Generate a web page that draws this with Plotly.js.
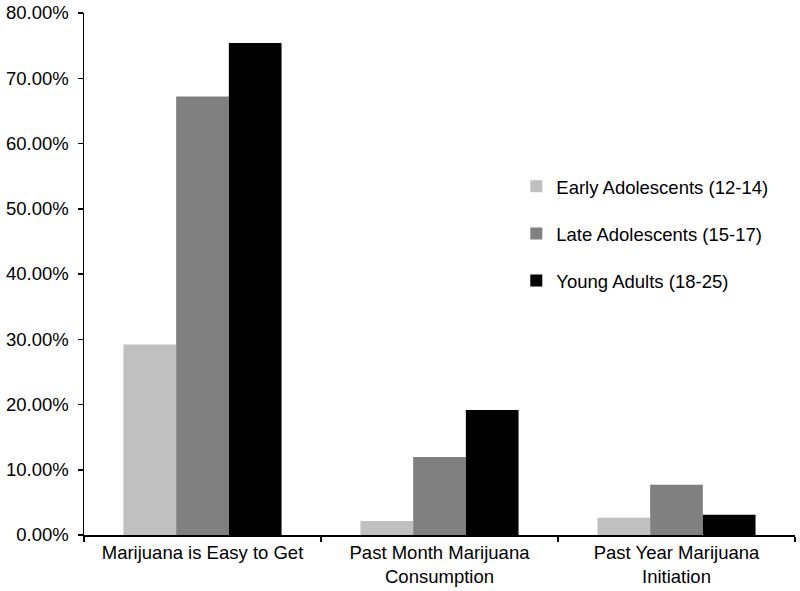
<!DOCTYPE html>
<html>
<head>
<meta charset="utf-8">
<script src="https://cdn.plot.ly/plotly-3.0.1.min.js"></script>
<style>html,body{margin:0;padding:0;background:#fff;}#chart{width:800px;height:591px;}</style>
</head>
<body>
<div id="chart"></div>
<script>
const categories = ["Marijuana is Easy to Get", "Past Month Marijuana<br>Consumption", "Past Year Marijuana<br>Initiation"];
const seriesNames = ["Early Adolescents (12-14)", "Late Adolescents (15-17)", "Young Adults (18-25)"];
const earlyAdolescents = [0.292, 0.0215, 0.0265];
const lateAdolescents = [0.672, 0.1195, 0.077];
const youngAdults = [0.754, 0.1915, 0.031];
const seriesValues = [earlyAdolescents, lateAdolescents, youngAdults];
const seriesColors = ["#c0c0c0", "#808080", "#000000"];
const yTickVals = [0, 0.1, 0.2, 0.3, 0.4, 0.5, 0.6, 0.7, 0.8];

const traces = seriesValues.map((vals, i) => ({
  type: "bar",
  name: seriesNames[i],
  x: categories,
  y: vals,
  marker: {color: seriesColors[i], line: {width: 0}},
  legendgroup: "g" + i,
  hoverinfo: "skip"
}));

const layout = {
  width: 800, height: 591,
  margin: {l: 84, r: 5, t: 13, b: 56},
  paper_bgcolor: "#fff", plot_bgcolor: "#fff",
  font: {family: "Liberation Sans, Arial, sans-serif", size: 18.5, color: "#000"},
  barmode: "group",
  bargap: 0.333,
  bargroupgap: 0,
  showlegend: true,
  legend: {x: 0.608, y: 0.577, xanchor: "left", yanchor: "middle", traceorder: "grouped",
           tracegroupgap: 20, font: {size: 18.5}, bgcolor: "rgba(0,0,0,0)"},
  xaxis: {
    showline: true, linecolor: "#000", linewidth: 1.5,
    ticks: "outside", tickson: "boundaries", ticklen: 5, tickcolor: "#000", tickwidth: 1.5,
    showgrid: false, zeroline: false, tickfont: {size: 18.5}, fixedrange: true
  },
  yaxis: {
    range: [0, 0.8], tickvals: yTickVals, tickformat: ".2%",
    showline: true, linecolor: "#000", linewidth: 1.5,
    ticks: "outside", ticklen: 5, tickcolor: "#000", tickwidth: 1.5, ticklabelstandoff: 5,
    showgrid: false, zeroline: false, tickfont: {size: 18.5}, fixedrange: true
  }
};

Plotly.newPlot("chart", traces, layout, {displayModeBar: false, staticPlot: true});
</script>
</body>
</html>
